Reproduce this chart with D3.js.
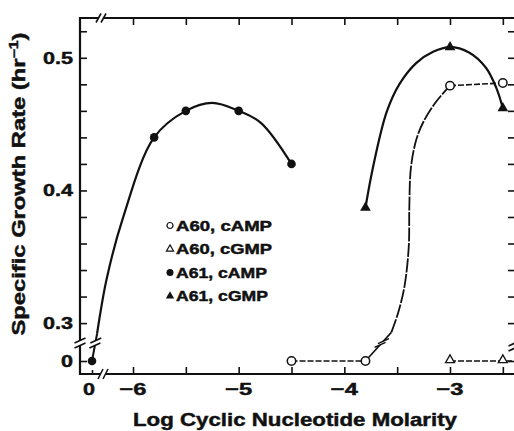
<!DOCTYPE html>
<html>
<head>
<meta charset="utf-8">
<script src="https://cdn.jsdelivr.net/npm/d3@7"></script>
<style>
body { margin: 0; background: #fff; }
text { font-family: "Liberation Sans", Arial, sans-serif; font-weight: bold; fill: #111; stroke: #111; stroke-width: 0.45px; }
</style>
</head>
<body>
<script>
var xMajor = [-6, -5, -4, -3];
var xMinor = [-5.5, -4.5, -3.5, -2.5];
var xLabels = ["\u22126", "\u22125", "\u22124", "\u22123"];
var yMajor = [0.3, 0.4, 0.5];
var yMinor = [0.32, 0.34, 0.36, 0.38, 0.42, 0.44, 0.46, 0.48, 0.52];
var yLabels = ["0.3", "0.4", "0.5"];
var zeroLabel = "0";

// measured points (x = log molarity, y = specific growth rate)
var a61CampX = [-5.8, -5.5, -5.0, -4.5];
var a61CampY = [0.44, 0.46, 0.46, 0.42];
var a61CampZeroY = 0;             // no nucleotide added
var a61CgmpX = [-3.8, -3.0, -2.5];
var a61CgmpY = [0.387, 0.508, 0.462];
var a60CampX = [-4.5, -3.8, -3.0, -2.5];
var a60CampY = [0, 0, 0.479, 0.481];
var a60CgmpX = [-3.0, -2.5, -2.0];
var a60CgmpY = [0, 0, 0];

// hand drawn curves
var a61CampCurveX = [-6.34, -6.25, -6.10, -5.8, -5.5, -5.25, -5.0, -4.79, -4.5];
var a61CampCurveY = [0.292, 0.333, 0.378, 0.44, 0.46, 0.466, 0.46, 0.451, 0.42];
var a61CgmpCurveX = [-3.8, -3.73, -3.60, -3.48, -3.32, -3.16, -3.0, -2.82, -2.66, -2.56, -2.5];
var a61CgmpCurveY = [0.387, 0.417, 0.459, 0.480, 0.496, 0.5045, 0.508, 0.504, 0.4925, 0.477, 0.462];
var a60CampCurveX = [-3.555, -3.49, -3.43, -3.39, -3.385, -3.37, -3.32, -3.25, -3.13, -3.0];
var a60CampCurveY = [0.293, 0.308, 0.328, 0.358, 0.387, 0.417, 0.438, 0.452, 0.467, 0.479];

var legendLabels = ["A60, cAMP", "A60, cGMP", "A61, cAMP", "A61, cGMP"];
var legendWidths = [96, 96, 91, 92];

var svg = d3.select("body").append("svg")
    .attr("width", 514)
    .attr("height", 431);

var x = d3.scaleLinear().domain([-6, -3]).range([133, 450]);
var xZero = d3.scalePoint().domain([zeroLabel]).range([84, 100]);
// broken y axis: 0 sits below the break, 0.285+ is the real scale
var y = d3.scaleLinear().domain([0, 0.285, 0.53]).range([361, 343, 18]);

var frameL = 80, frameR = 515, frameT = 18, frameB = 374;
var ink = "#111";

function zip(xs, ys) { return xs.map(function(d, i) { return [d, ys[i]]; }); }

// ticks
var allX = xMajor.concat(xMinor);
var allY = yMajor.concat(yMinor).concat([0]);
function tickStyle(g) {
  g.select(".domain").remove();
  g.selectAll("line").attr("stroke", ink).attr("stroke-width", 1.6);
}
svg.append("g").attr("transform", "translate(0," + frameB + ")")
    .call(d3.axisBottom(x).tickValues(allX).tickSize(-7).tickFormat("")).call(tickStyle);
svg.append("g").attr("transform", "translate(0," + frameB + ")")
    .call(d3.axisBottom(xZero).tickSize(-4).tickFormat("")).call(tickStyle);
svg.append("g").attr("transform", "translate(0," + frameT + ")")
    .call(d3.axisTop(x).tickValues(allX).tickSize(-7).tickFormat("")).call(tickStyle);
svg.append("g").attr("transform", "translate(" + frameL + ",0)")
    .call(d3.axisLeft(y).tickValues(allY).tickSize(-7).tickFormat("")).call(tickStyle);
svg.append("g").attr("transform", "translate(" + frameR + ",0)")
    .call(d3.axisRight(y).tickValues(allY).tickSize(-7).tickFormat("")).call(tickStyle);

// frame
svg.append("path")
    .attr("d", "M" + frameR + "," + frameT + "H" + frameL + "V" + frameB + "H" + frameR)
    .attr("fill", "none").attr("stroke", ink).attr("stroke-width", 2.2);

// "//" break: two slashes along (vx,vy), offset by (ox,oy), white between
function breakMark(cx, cy, vx, vy, ox, oy) {
  var a = [cx - ox / 2, cy - oy / 2], b = [cx + ox / 2, cy + oy / 2];
  var poly = [[a[0] - vx / 2, a[1] - vy / 2], [a[0] + vx / 2, a[1] + vy / 2],
              [b[0] + vx / 2, b[1] + vy / 2], [b[0] - vx / 2, b[1] - vy / 2]];
  svg.append("path").attr("d", "M" + poly.join("L") + "Z").attr("fill", "#fff");
  [a, b].forEach(function(p) {
    svg.append("line")
        .attr("x1", p[0] - vx / 2).attr("y1", p[1] - vy / 2)
        .attr("x2", p[0] + vx / 2).attr("y2", p[1] + vy / 2)
        .attr("stroke", ink).attr("stroke-width", 1.6);
  });
}

var line = d3.line()
    .x(function(d) { return x(d[0]); })
    .y(function(d) { return y(d[1]); })
    .curve(d3.curveCatmullRom.alpha(0.5));
var straight = d3.line()
    .x(function(d) { return x(d[0]); })
    .y(function(d) { return y(d[1]); });

// A61 cAMP
var a61Start = [xZero(zeroLabel), y(a61CampZeroY)];
var a61Brk = [x(a61CampCurveX[0]), y(a61CampCurveY[0])];
svg.append("line")
    .attr("x1", a61Start[0]).attr("y1", a61Start[1])
    .attr("x2", a61Brk[0]).attr("y2", a61Brk[1])
    .attr("stroke", ink).attr("stroke-width", 2);
svg.append("path").datum(zip(a61CampCurveX, a61CampCurveY))
    .attr("d", line).attr("fill", "none").attr("stroke", ink).attr("stroke-width", 2.2);

// A61 cGMP
svg.append("path").datum(zip(a61CgmpCurveX, a61CgmpCurveY))
    .attr("d", line).attr("fill", "none").attr("stroke", ink).attr("stroke-width", 2.2);

// A60 cAMP: dashed runs, plus rising curve
var a60Pts = zip(a60CampX, a60CampY);
svg.append("path").datum(a60Pts.slice(0, 2))
    .attr("d", straight)
    .attr("fill", "none").attr("stroke", ink).attr("stroke-width", 1.6).attr("stroke-dasharray", "6,2");
svg.append("path").datum(a60Pts.slice(2))
    .attr("d", straight)
    .attr("fill", "none").attr("stroke", ink).attr("stroke-width", 1.6).attr("stroke-dasharray", "6,2");
var a60Start = [x(a60CampX[1]), y(a60CampY[1])];
var a60Brk = [x(a60CampCurveX[0]), y(a60CampCurveY[0])];
svg.append("line")
    .attr("x1", a60Start[0]).attr("y1", a60Start[1])
    .attr("x2", a60Brk[0]).attr("y2", a60Brk[1])
    .attr("stroke", ink).attr("stroke-width", 1.6);
svg.append("path").datum(zip(a60CampCurveX, a60CampCurveY))
    .attr("d", line).attr("fill", "none").attr("stroke", ink).attr("stroke-width", 1.8)
    .attr("stroke-dasharray", "14,1.5");

// A60 cGMP
svg.append("path").datum(zip(a60CgmpX, a60CgmpY))
    .attr("d", straight)
    .attr("fill", "none").attr("stroke", ink).attr("stroke-width", 1.6).attr("stroke-dasharray", "6,2");

// breaks on axes and lines
var yBrk = y(0.285);
breakMark(frameL, yBrk, 11, -5, 0, 5);
breakMark(frameR - 1, yBrk + 3, 11, -5, 0, 5);
breakMark(103, frameB, 5, -10, 5, 0);
breakMark(101, frameT, 5, -9, 5, 0);
function lineBreak(p, q) {
  var t = (p[1] - yBrk) / (p[1] - q[1]);
  var cx = p[0] + t * (q[0] - p[0]);
  var dx = q[0] - p[0], dy = q[1] - p[1], len = Math.sqrt(dx * dx + dy * dy);
  breakMark(cx, yBrk, 11, -5, 5 * dx / len, 5 * dy / len);
}
lineBreak(a61Start, a61Brk);
lineBreak(a60Start, a60Brk);

// markers
var tri = d3.symbol().type(d3.symbolTriangle);
svg.append("circle").attr("cx", a61Start[0]).attr("cy", a61Start[1]).attr("r", 4.3).attr("fill", ink);
svg.selectAll(".a61camp").data(zip(a61CampX, a61CampY)).enter().append("circle")
    .attr("cx", function(d) { return x(d[0]); })
    .attr("cy", function(d) { return y(d[1]); })
    .attr("r", 4.3).attr("fill", ink);
svg.selectAll(".a60camp").data(a60Pts).enter().append("circle")
    .attr("cx", function(d) { return x(d[0]); })
    .attr("cy", function(d) { return y(d[1]); })
    .attr("r", 4.2).attr("fill", "#fff").attr("stroke", ink).attr("stroke-width", 1.5);
svg.selectAll(".a61cgmp").data(zip(a61CgmpX, a61CgmpY)).enter().append("path")
    .attr("d", tri.size(50))
    .attr("transform", function(d) { return "translate(" + x(d[0]) + "," + y(d[1]) + ")"; })
    .attr("fill", ink);
svg.selectAll(".a60cgmp").data(zip(a60CgmpX, a60CgmpY)).enter().append("path")
    .attr("d", tri.size(34))
    .attr("transform", function(d) { return "translate(" + x(d[0]) + "," + (y(d[1]) - 1) + ")"; })
    .attr("fill", "#fff").attr("stroke", ink).attr("stroke-width", 1.3);

// tick labels
function fit(sel, w) { sel.attr("textLength", w).attr("lengthAdjust", "spacingAndGlyphs"); }
svg.selectAll(".ylab").data(yMajor).enter().append("text")
    .attr("x", 73).attr("y", function(d) { return y(d) + 6; })
    .attr("text-anchor", "end").style("font-size", "17px")
    .text(function(d, i) { return yLabels[i]; }).call(fit, 30);
svg.append("text").attr("x", 73).attr("y", y(0) + 6)
    .attr("text-anchor", "end").style("font-size", "17px").text(zeroLabel).call(fit, 12);
svg.selectAll(".xlab").data(xMajor).enter().append("text")
    .attr("x", function(d) { return x(d); }).attr("y", 395)
    .attr("text-anchor", "middle").style("font-size", "17px")
    .text(function(d, i) { return xLabels[i]; }).call(fit, 27);
svg.append("text").attr("x", xZero(zeroLabel) - 3).attr("y", 395)
    .attr("text-anchor", "middle").style("font-size", "17px").text(zeroLabel).call(fit, 12);

// titles
svg.append("text").attr("x", 295).attr("y", 426)
    .attr("text-anchor", "middle").style("font-size", "18px")
    .text("Log Cyclic Nucleotide Molarity").call(fit, 324);
var yt = svg.append("text")
    .attr("transform", "translate(25,184) rotate(-90)")
    .attr("text-anchor", "middle").style("font-size", "18px");
yt.append("tspan").text("Specific Growth Rate (hr");
yt.append("tspan").attr("dy", -7).style("font-size", "12px").text("\u22121");
yt.append("tspan").attr("dy", 7).text(")");
yt.call(fit, 303);

// legend
var lg = svg.selectAll(".leg").data(legendLabels).enter().append("g")
    .attr("transform", function(d, i) { return "translate(170," + (225.5 + i * 23.5) + ")"; });
lg.append("text").attr("x", 6).attr("y", 5).style("font-size", "14px")
    .text(function(d) { return d; })
    .each(function(d, i) { d3.select(this).call(fit, legendWidths[i]); });
lg.each(function(d, i) {
  var g = d3.select(this);
  if (i === 0) g.append("circle").attr("r", 3).attr("fill", "#fff").attr("stroke", ink).attr("stroke-width", 1.2);
  if (i === 1) g.append("path").attr("d", tri.size(22)).attr("fill", "#fff").attr("stroke", ink).attr("stroke-width", 1.2);
  if (i === 2) g.append("circle").attr("r", 3.5).attr("fill", ink);
  if (i === 3) g.append("path").attr("d", tri.size(30)).attr("fill", ink);
});
</script>
</body>
</html>
